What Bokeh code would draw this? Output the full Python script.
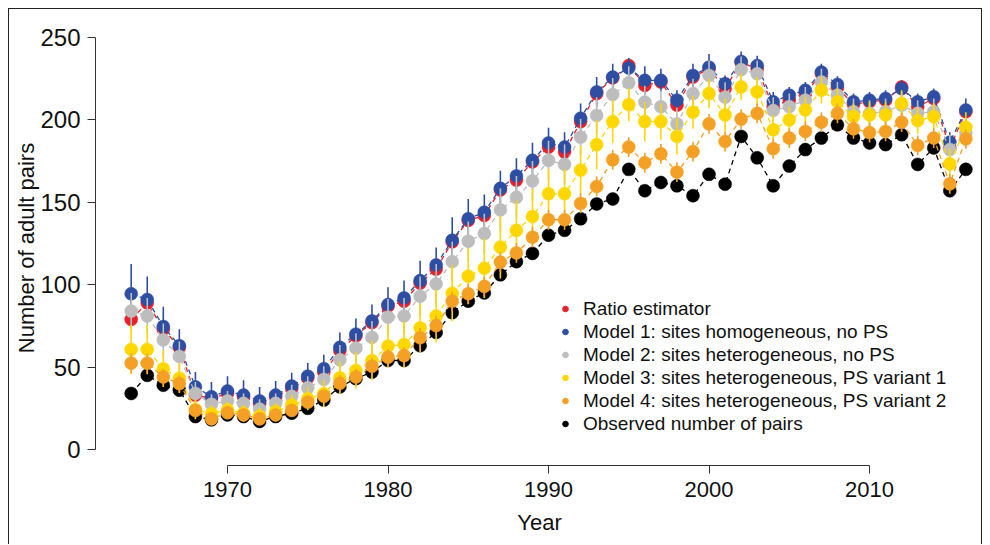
from bokeh.plotting import figure
from bokeh.models import (ColumnDataSource, Legend, LegendItem, FixedTicker,
                          Range1d)
from bokeh.embed import file_html
from bokeh.resources import INLINE

years = list(range(1964, 2017))

# Estimated number of adult pairs per year
ratio_est = [79, 89, 73, 62, 33, 31, 34, 32, 28, 32, 37, 43.5, 47, 60, 69, 77, 87, 90,
             101, 109.5, 126, 139, 142, 157.5, 163.5, 174.5, 183.5, 180.5, 199, 216,
             225.5, 233, 221, 223, 209, 226, 231, 219, 235, 231, 208, 212, 216, 228,
             219.5, 209.5, 211, 212, 220, 208, 213, 183, 205]
model1 = [94.5, 91, 74.6, 63, 38, 32, 35.5, 33, 29.5, 33, 38.5, 44.5, 49, 62, 70, 78,
          88, 92, 102.5, 112, 127, 140, 144, 158.5, 166, 175.5, 186, 183.5, 201, 217,
          226, 231.5, 224, 224, 212, 227, 232, 222, 235.5, 233, 211, 215, 218, 229,
          221.5, 211, 212, 213, 219, 211, 214, 186.5, 206]
model2 = [84, 81, 66.5, 56.5, 34, 27.5, 29.5, 28, 24.5, 28, 32.3, 37.4, 42.5, 54.4,
          61.5, 68, 80.3, 81, 93, 100.5, 114, 126.4, 131, 145.4, 153, 163, 175.4, 173,
          189.5, 202.7, 215.4, 222.5, 210.8, 208, 197.6, 216, 227, 213.8, 230.5, 228,
          205.7, 208, 212, 223, 215, 205, 204, 205, 209, 204, 205, 182, 192]
model3 = [60.7, 60.7, 49, 43.3, 24.3, 21.7, 24, 22, 20.2, 23, 27, 30.8, 33.8, 43.5, 48,
          54, 62.7, 63.7, 73.8, 81, 94.8, 105.2, 110, 122.8, 133, 141.4, 155.2, 155.2,
          169.5, 185, 199, 209.3, 199, 199, 190, 204.7, 216, 203, 220, 217, 194, 200,
          206, 218, 211, 202, 203, 203, 210, 199.6, 202, 173.3, 195.6]
model4 = [52.4, 52.4, 44, 40, 23.7, 18.6, 22.3, 21, 18.6, 21, 23.7, 28.7, 32.3, 40.2, 44,
          50.5, 56, 57, 67.8, 75.2, 90, 94.5, 99, 113.7, 119.3, 128.8, 139.4, 139.4,
          149.3, 159.6, 175.8, 183.5, 174, 179.4, 168.3, 180.8, 197.6, 186.9, 200.5, 204,
          182.5, 189, 193, 198.6, 204, 194.6, 192.3, 193, 198.6, 184.5, 189, 161.2, 188.5]
observed = [34, 45, 39, 36, 20, 18, 21, 20, 17, 20, 22, 25, 30, 38, 43, 47, 54, 54, 63,
            71, 83, 90, 95, 106, 114, 119, 130, 133, 140, 149, 152, 170, 157, 162, 160,
            154, 167, 161, 190, 177, 160, 172, 182, 189, 197, 189, 186, 185, 191, 173,
            183, 157, 170]

# Half-widths of the credible intervals
model1_err = [18, 14, 12, 10, 9, 9, 9, 9, 8.5, 8.5, 8, 8, 8.5, 9, 9.5, 10, 10.5, 10.5,
              12, 10.5, 14, 12, 10.7, 10.7, 10.7, 10.7, 9.3, 9, 9, 9, 8, 6, 8.5, 7, 6,
              7, 8, 5, 6, 6, 6, 5, 5, 5, 5, 5, 5, 5, 5, 5, 5, 6, 7]
model2_err = [11, 11, 10, 9, 7, 6, 6, 6, 6, 6, 7, 7, 8, 9, 9, 10, 11, 11, 12, 12, 12,
              12, 12, 13, 13, 12, 12, 12, 11, 11, 10, 10, 10, 10, 10, 9, 9, 9, 8, 8, 8,
              8, 8, 8, 8, 8, 8, 8, 8, 8, 8, 9, 9]
model3_err = [15, 15, 11, 9, 6, 5, 5, 5, 5, 5, 6, 7, 8, 10, 11, 12, 13, 14, 15, 16, 17,
              17, 18, 19, 18, 17, 15, 15, 15, 15, 13, 10, 12, 11, 11, 10, 9, 10, 8, 9, 9,
              8, 8, 8, 8, 8, 8, 8, 8, 8, 8, 9, 9]
model4_err = [6, 6, 5, 5, 4, 4, 4, 4, 4, 4, 4, 4, 4, 5, 5, 5, 5, 5, 6, 6, 6, 6, 6, 6, 6,
              6, 6, 6, 6, 6, 6, 6, 6, 6, 6, 6, 6, 6, 6, 6, 6, 6, 6, 6, 6, 6, 6, 6, 6, 6,
              6, 6, 6]

labels = ["Ratio estimator",
          "Model 1: sites homogeneous, no PS",
          "Model 2: sites heterogeneous, no PS",
          "Model 3: sites heterogeneous, PS variant 1",
          "Model 4: sites heterogeneous, PS variant 2",
          "Observed number of pairs"]

y_ticks = [0, 50, 100, 150, 200, 250]
x_ticks = [1970, 1980, 1990, 2000, 2010]

RED, BLUE, GREY, YELLOW, ORANGE, BLACK = ("#E8202A", "#2D4EA2", "#BDBDBD",
                                          "#FFD700", "#F4A024", "#000000")
FONT = "Liberation Sans"
EDGE = "1px solid #222222"

p = figure(width=974, height=536, output_backend="svg", toolbar_location=None,
           x_range=Range1d(1961.776, 2017.10), y_range=Range1d(-9.709, 254.25),
           min_border_left=86, min_border_right=0, min_border_top=21,
           min_border_bottom=80)
# thin frame around the graphic (left, top and right edges)
p.margin = (8, 0, 0, 8)
p.styles = {"border-left": EDGE, "border-top": EDGE, "border-right": EDGE}
p.background_fill_color = "white"
p.border_fill_color = "white"
p.outline_line_color = None
p.xgrid.visible = False
p.ygrid.visible = False

for ax in (p.xaxis[0], p.yaxis[0]):
    ax.axis_line_color = "#333333"
    ax.major_tick_line_color = "#333333"
    ax.major_tick_out = 8
    ax.major_tick_in = 0
    ax.minor_tick_line_color = None
    ax.major_label_text_font = FONT
    ax.major_label_text_color = "#111111"
    ax.axis_label_text_font = FONT
    ax.axis_label_text_font_size = "22px"
    ax.axis_label_text_font_style = "normal"
    ax.axis_label_text_color = "#111111"

p.yaxis.ticker = FixedTicker(ticks=y_ticks)
p.yaxis.bounds = (0, 250)
p.yaxis.major_label_orientation = "horizontal"
p.yaxis.major_label_text_font_size = "24px"
p.yaxis.major_label_standoff = 7
p.yaxis.axis_label = "Number of adult pairs"
p.yaxis.axis_label_standoff = -2

p.xaxis.ticker = FixedTicker(ticks=x_ticks)
p.xaxis.bounds = (1970, 2010)
p.xaxis.major_label_text_font_size = "22px"
p.xaxis.major_label_standoff = 8
p.xaxis.axis_label = "Year"
p.xaxis.axis_label_standoff = 10


def draw_series(values, color, errors=None):
    src = ColumnDataSource(dict(x=years, y=values))
    p.line("x", "y", source=src, line_color=color, line_width=1.3,
           line_dash="5 4")
    if errors is not None:
        lo = [v - e for v, e in zip(values, errors)]
        hi = [v + e for v, e in zip(values, errors)]
        p.segment(x0=years, y0=lo, x1=years, y1=hi, line_color=color,
                  line_width=1.6)
    p.scatter("x", "y", source=src, size=13, fill_color=color,
              line_color=color, line_width=0.5)


draw_series(observed, BLACK)
draw_series(ratio_est, RED)
draw_series(model1, BLUE, model1_err)
draw_series(model2, GREY, model2_err)
draw_series(model3, YELLOW, model3_err)
draw_series(model4, ORANGE, model4_err)

# Legend markers: small dots, their single point lies outside the ranges
items = []
for lab, col in zip(labels, [RED, BLUE, GREY, YELLOW, ORANGE, BLACK]):
    r = p.scatter(x=[1900], y=[-1000], size=10, fill_color=col, line_color=col)
    items.append(LegendItem(label=lab, renderers=[r]))

legend = Legend(items=items, location=(463, 30), border_line_color=None,
                background_fill_alpha=0, padding=0, margin=0, spacing=0,
                glyph_width=14, glyph_height=23, label_height=23,
                label_standoff=11, label_text_font=FONT,
                label_text_font_size="19px", label_text_color="#111111")
p.add_layout(legend)

open("out.html", "w").write(file_html(p, INLINE))
